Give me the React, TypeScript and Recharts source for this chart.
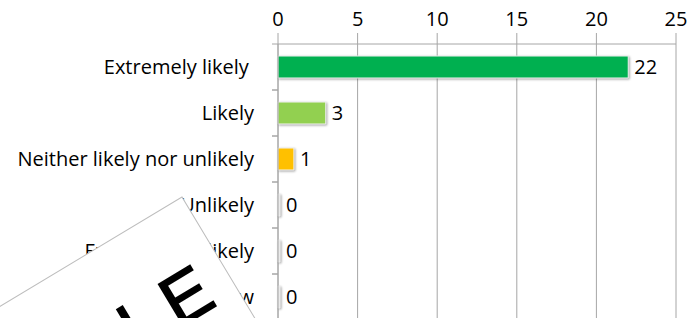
import React from 'react';
import { BarChart, Bar, XAxis, YAxis, CartesianGrid, Cell, LabelList } from 'recharts';

const categories = [
  'Extremely likely ',
  'Likely',
  'Neither likely nor unlikely',
  'Unlikely',
  'Extremely unlikely',
  "Don't know",
];
const responses = [22, 3, 1, 0, 0, 0];
const barColors = ['#00B050', '#92D050', '#FFC000', '#e3e3e3', '#e3e3e3', '#e3e3e3'];
const xTicks = [0, 5, 10, 15, 20, 25];

const W = 694;
const H = 320;
const MARGIN = { top: 0, right: 18, bottom: 0, left: 0 };
const X_AXIS_H = 44;
const Y_AXIS_W = 278;
const FONT = '"Open Sans", "Noto Sans", sans-serif';
const FONT_SIZE = 20;
const GRID = '#a6a6a6';
const BAND = (H - MARGIN.top - MARGIN.bottom - X_AXIS_H) / categories.length;

const chartData = categories.map((name, i) => ({
  name,
  value: responses[i],
  color: barColors[i],
}));

// category labels + Excel style tick marks on band edges
const CategoryTick = (props: any) => {
  const { x, y, payload } = props;
  const axisX = x + 24;
  return (
    <g>
      <line x1={axisX - 6} x2={axisX} y1={y - BAND / 2} y2={y - BAND / 2} stroke={GRID} />
      <line x1={axisX - 6} x2={axisX} y1={y + BAND / 2} y2={y + BAND / 2} stroke={GRID} />
      <text
        x={x}
        y={y}
        dy={7}
        textAnchor="end"
        fill="#000"
        fontSize={FONT_SIZE}
        fontFamily={FONT}
        style={{ whiteSpace: 'pre' }}
      >
        {payload.value}
      </text>
    </g>
  );
};

const Watermark = () => (
  <svg width={W} height={318} style={{ position: 'absolute', left: 0, top: 0, pointerEvents: 'none' }}>
    <g transform="translate(182,197) rotate(-31)">
      <rect x={-420} y={0} width={420} height={320} fill="#fff" stroke="#bdbdbd" strokeWidth={1} />
      <text
        x={-14}
        y={111}
        textAnchor="end"
        fontSize={70}
        letterSpacing={10}
        fontFamily='"Liberation Sans", Arial, sans-serif'
        fill="#000"
        stroke="#000"
        strokeWidth={1.6}
      >
        SAMPLE
      </text>
    </g>
  </svg>
);

export default function App() {
  return (
    <div style={{ position: 'absolute', left: 0, top: 0, width: W, height: 318, overflow: 'hidden', background: '#fff' }}>
      <BarChart width={W} height={H} data={chartData} layout="vertical" margin={MARGIN}>
        <CartesianGrid horizontal={false} stroke={GRID} />
        <XAxis
          type="number"
          orientation="top"
          domain={[0, 25]}
          ticks={xTicks}
          height={X_AXIS_H}
          tickSize={11}
          tickMargin={7}
          stroke={GRID}
          tick={{ fill: '#000', fontSize: FONT_SIZE, fontFamily: FONT }}
        />
        <YAxis
          type="category"
          dataKey="name"
          width={Y_AXIS_W}
          tickSize={0}
          tickMargin={24}
          stroke={GRID}
          tick={<CategoryTick />}
          interval={0}
        />
        <Bar
          dataKey="value"
          barSize={22}
          minPointSize={2}
          isAnimationActive={false}
          stroke="#f2f2f2"
          strokeWidth={1}
          style={{ filter: 'drop-shadow(1px 1px 1px rgba(0,0,0,0.35))' }}
        >
          {chartData.map((entry, index) => (
            <Cell key={`cell-${index}`} fill={entry.color} />
          ))}
          <LabelList dataKey="value" position="right" offset={6} fill="#000" fontSize={FONT_SIZE} fontFamily={FONT} />
        </Bar>
      </BarChart>
      <Watermark />
    </div>
  );
}
